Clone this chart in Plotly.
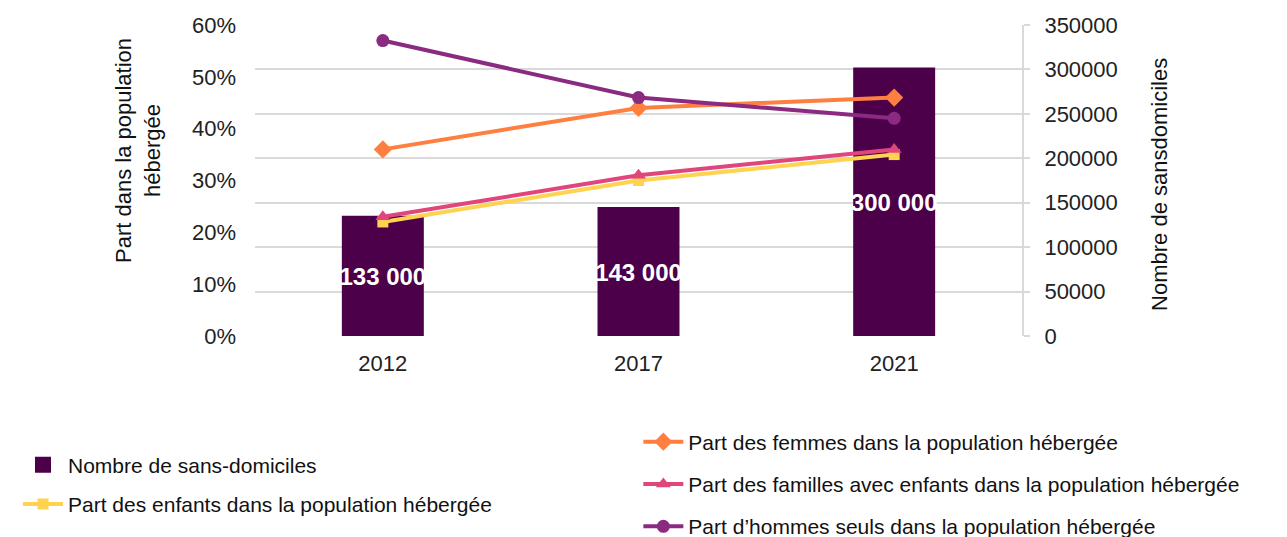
import plotly.graph_objects as go

years = ["2012", "2017", "2021"]
sans_domiciles = [133000, 143000, 300000]
bar_labels = ["133 000", "143 000", "300 000"]
part_femmes = [0.36, 0.44, 0.46]
part_familles = [0.23, 0.31, 0.36]
part_enfants = [0.22, 0.30, 0.35]
part_hommes = [0.57, 0.46, 0.42]

FONT = "Liberation Sans, Arial, sans-serif"
BAR_C = "#4B0049"
ORANGE = "#FF7F40"
PINK = "#E0457B"
YELLOW = "#FFD24F"
PURPLE = "#8A2A80"

fig = go.Figure()
fig.add_trace(go.Bar(
    x=years, y=sans_domiciles, name="Nombre de sans-domiciles",
    marker=dict(color=BAR_C, line=dict(color=BAR_C, width=4)), width=0.305,
    text=bar_labels, textposition="inside", insidetextanchor="middle",
    textangle=0, constraintext="none",
    textfont=dict(color="white", size=24, family=FONT, weight="bold"),
    yaxis="y", legend="legend", legendgroup="g1", legendrank=1,
))
fig.add_trace(go.Scatter(
    x=years, y=part_enfants, name="Part des enfants dans la population hébergée",
    mode="lines+markers", line=dict(color=YELLOW, width=4),
    marker=dict(symbol="square", size=11, color=YELLOW),
    yaxis="y2", legend="legend", legendgroup="g2", legendrank=2,
))
fig.add_trace(go.Scatter(
    x=years, y=part_femmes, name="Part des femmes dans la population hébergée",
    mode="lines+markers", line=dict(color=ORANGE, width=4),
    marker=dict(symbol="diamond", size=14, color=ORANGE),
    yaxis="y2", legend="legend2", legendgroup="g3", legendrank=3,
))
fig.add_trace(go.Scatter(
    x=years, y=part_familles, name="Part des familles avec enfants dans la population hébergée",
    mode="lines+markers", line=dict(color=PINK, width=4),
    marker=dict(symbol="triangle-up", size=13, color=PINK),
    yaxis="y2", legend="legend2", legendgroup="g4", legendrank=4,
))
fig.add_trace(go.Scatter(
    x=years, y=part_hommes, name="Part d’hommes seuls dans la population hébergée",
    mode="lines+markers", line=dict(color=PURPLE, width=4),
    marker=dict(symbol="circle", size=13, color=PURPLE),
    yaxis="y2", legend="legend2", legendgroup="g5", legendrank=5,
))

tickfont = dict(family=FONT, size=22, color="#222222")
titlefont = dict(family=FONT, size=22, color="#111111")

fig.update_layout(
    width=1287, height=537,
    margin=dict(l=255, r=265, t=25, b=201, autoexpand=False),
    paper_bgcolor="white", plot_bgcolor="white",
    font=dict(family=FONT, size=22, color="#111111"),
    showlegend=True,
    xaxis=dict(showgrid=False, showline=False, ticks="", tickfont=tickfont,
               automargin=False, ticklabelstandoff=12),
    yaxis=dict(side="right", range=[0, 350000], dtick=50000, tickformat="d",
               showgrid=True, gridcolor="#d9d9d9", gridwidth=2,
               showline=True, linecolor="#d9d9d9", linewidth=2,
               ticks="outside", ticklen=6, tickcolor="#d9d9d9", tickwidth=2,
               tickfont=tickfont, zeroline=False, automargin=False,
               ticklabelstandoff=10),
    yaxis2=dict(side="left", overlaying="y", range=[0, 0.6], dtick=0.1, tickformat=".0%",
                showgrid=False, showline=False, zeroline=False, ticks="",
                tickfont=tickfont, automargin=False, ticklabelstandoff=18),
    legend=dict(xref="container", yref="container", x=0.014, y=0.172, xanchor="left", yanchor="top",
                font=dict(family=FONT, size=21, color="#111111"), traceorder="grouped",
                tracegroupgap=9, itemwidth=40, bgcolor="rgba(0,0,0,0)"),
    legend2=dict(xref="container", yref="container", x=0.496, y=0.215, xanchor="left", yanchor="top",
                 font=dict(family=FONT, size=21, color="#111111"), traceorder="grouped",
                 tracegroupgap=12, itemwidth=40, bgcolor="rgba(0,0,0,0)"),
    annotations=[
        dict(text="Part dans la population<br>hébergée", xref="paper", yref="paper",
             x=-0.1525, y=0.595, textangle=-90, showarrow=False, font=titlefont,
             xanchor="center", yanchor="middle"),
        dict(text="Nombre de sansdomiciles", xref="paper", yref="paper",
             x=1.18, y=0.486, textangle=-90, showarrow=False, font=titlefont,
             xanchor="center", yanchor="middle"),
    ],
)

fig.write_html("out.html")
